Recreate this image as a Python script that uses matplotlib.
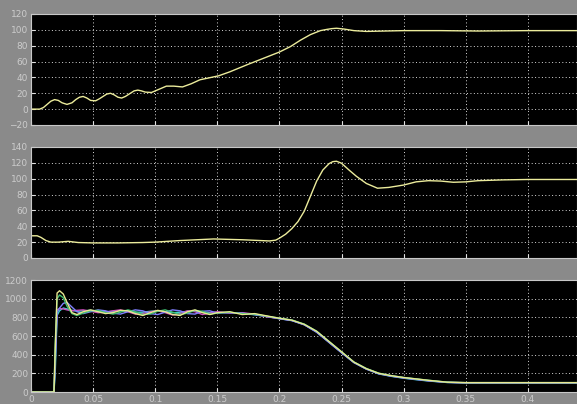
import matplotlib
matplotlib.use('Agg')
import matplotlib.pyplot as plt

# top trace (speed-like response)
top_t = [0, 0.007, 0.010, 0.013, 0.016, 0.019, 0.022, 0.025, 0.029, 0.033,
         0.036, 0.039, 0.042, 0.045, 0.048, 0.052, 0.055, 0.058, 0.061, 0.064,
         0.067, 0.070, 0.073, 0.076, 0.079, 0.083, 0.086, 0.089, 0.092, 0.097,
         0.103, 0.109, 0.115, 0.122, 0.129, 0.136, 0.145, 0.151, 0.16, 0.174,
         0.187, 0.2, 0.209, 0.217, 0.225, 0.233, 0.238, 0.242, 0.246, 0.252,
         0.26, 0.27, 0.285, 0.3, 0.33, 0.36, 0.4, 0.44]
top_y = [0, 0, 2, 6, 10, 12, 11, 8, 6, 8,
         12, 15, 16, 14, 11, 10.5, 13, 16, 19, 20,
         18, 15, 14, 16, 19, 23, 24, 23, 21.5, 21,
         25, 29, 29, 28, 32, 37, 40, 42, 47, 56,
         64, 72, 79, 87, 94, 99, 100.5, 101.5, 102, 101,
         99, 98, 98.5, 99, 99, 98.5, 99, 99]

# middle trace
mid_t = [0, 0.005, 0.008, 0.012, 0.016, 0.022, 0.03, 0.038, 0.05, 0.07,
         0.09, 0.1, 0.12, 0.147, 0.17, 0.192, 0.197, 0.2, 0.205, 0.21,
         0.215, 0.22, 0.225, 0.23, 0.235, 0.24, 0.243, 0.246, 0.25, 0.256,
         0.262, 0.27, 0.279, 0.288, 0.3, 0.31, 0.32, 0.33, 0.34, 0.35,
         0.36, 0.38, 0.4, 0.44]
mid_y = [28, 28, 26, 22, 20, 20, 21, 19.5, 19, 19,
         19.5, 20, 22, 24, 23, 21.5, 22.5, 25, 30, 37,
         46, 59, 78, 97, 111, 119, 121.5, 122, 119.5, 111,
         103, 94, 88, 89, 92, 96, 97.5, 97, 95.5, 96,
         97.5, 98.5, 99, 99]

# bottom traces (several phases)
bot_t = [0, 0.0185, 0.0195, 0.021, 0.023, 0.026, 0.029, 0.033, 0.037, 0.042,
         0.048, 0.054, 0.06, 0.066, 0.072, 0.078, 0.084, 0.09, 0.096, 0.102,
         0.108, 0.114, 0.12, 0.126, 0.132, 0.138, 0.144, 0.15, 0.16, 0.17,
         0.18, 0.19, 0.2, 0.21, 0.22, 0.23, 0.24, 0.25, 0.26, 0.27,
         0.28, 0.29, 0.3, 0.31, 0.32, 0.335, 0.35, 0.37, 0.4, 0.44]
bot_yellow = [0, 0, 450, 1060, 1085, 1050, 960, 850, 830, 860,
              880, 860, 840, 850, 875, 870, 840, 820, 850, 875,
              860, 830, 820, 860, 880, 850, 830, 850, 860, 830,
              840, 815, 790, 770, 725, 650, 540, 430, 320, 250,
              200, 175, 155, 140, 125, 105, 100, 100, 100, 100]
bot_violet = [0, 0, 300, 850, 900, 950, 960, 910, 860, 840,
              860, 880, 870, 845, 835, 860, 880, 870, 840, 830,
              855, 880, 870, 840, 835, 865, 870, 845, 850, 845,
              830, 810, 785, 765, 720, 640, 530, 420, 315, 245,
              195, 170, 150, 135, 120, 103, 98, 98, 98, 98]
bot_magenta = [0, 0, 400, 880, 895, 890, 880, 870, 875, 880,
               865, 850, 855, 870, 880, 860, 835, 840, 860, 870,
               850, 825, 840, 870, 860, 830, 845, 860, 845, 850,
               835, 805, 788, 768, 722, 645, 535, 425, 318, 248,
               198, 172, 153, 138, 122, 104, 100, 100, 100, 100]
bot_green = [0, 0, 520, 1000, 1040, 1010, 920, 840, 820, 845,
             870, 875, 850, 835, 855, 880, 860, 830, 835, 865,
             880, 855, 830, 845, 875, 865, 835, 845, 855, 840,
             835, 812, 792, 772, 728, 652, 542, 432, 322, 252,
             202, 176, 156, 141, 126, 106, 101, 101, 101, 101]
bot_cyan = [0, 0, 200, 820, 870, 900, 890, 875, 865, 870,
            875, 865, 860, 865, 870, 865, 855, 855, 865, 870,
            860, 850, 855, 865, 868, 855, 850, 855, 850, 842,
            828, 808, 786, 766, 722, 642, 532, 422, 316, 246,
            194, 168, 148, 132, 118, 102, 97, 97, 97, 97]

x_ticks = [0, 0.05, 0.1, 0.15, 0.2, 0.25, 0.3, 0.35, 0.4]
x_labels = ['0', '0.05', '0.1', '0.15', '0.2', '0.25', '0.3', '0.35', '0.4']

BG = '#8a8a8a'
TXT = '#cccccc'


def style(ax, ylim, yticks, xlabels):
    ax.set_facecolor('black')
    ax.set_xlim(0, 0.4396)
    ax.set_ylim(*ylim)
    ax.set_yticks(yticks)
    ax.set_xticks(x_ticks)
    if xlabels:
        ax.set_xticklabels(x_labels)
    else:
        ax.set_xticklabels([])
    ax.grid(True, color='white', linestyle=(0, (1, 2.5)), linewidth=0.7, alpha=0.85)
    ax.tick_params(direction='in', colors='#e0e0e0', labelcolor=TXT,
                   labelsize=6.5, length=3, pad=2)
    for s in ax.spines.values():
        s.set_color('#c8c8c8')
        s.set_linewidth(0.8)


fig = plt.figure(figsize=(5.77, 4.04), dpi=100, facecolor=BG)

ax1 = fig.add_axes([0.0537, 0.6906, 0.9463, 0.2748])
ax1.plot(top_t, top_y, color='#ecec9c', lw=1)
style(ax1, (-20, 120), range(-20, 121, 20), False)

ax2 = fig.add_axes([0.0537, 0.3614, 0.9463, 0.2748])
ax2.plot(mid_t, mid_y, color='#ecec9c', lw=1)
style(ax2, (0, 140), range(0, 141, 20), False)

ax3 = fig.add_axes([0.0537, 0.0297, 0.9463, 0.2772])
ax3.plot(bot_t, bot_cyan, color='#40d0d0', lw=1)
ax3.plot(bot_t, bot_magenta, color='#d050c0', lw=1)
ax3.plot(bot_t, bot_violet, color='#8080ff', lw=1)
ax3.plot(bot_t, bot_green, color='#40c070', lw=1)
ax3.plot(bot_t, bot_yellow, color='#e8e890', lw=1)
style(ax3, (0, 1200), range(0, 1201, 200), True)

fig.savefig('out.png', dpi=100, facecolor=BG)
